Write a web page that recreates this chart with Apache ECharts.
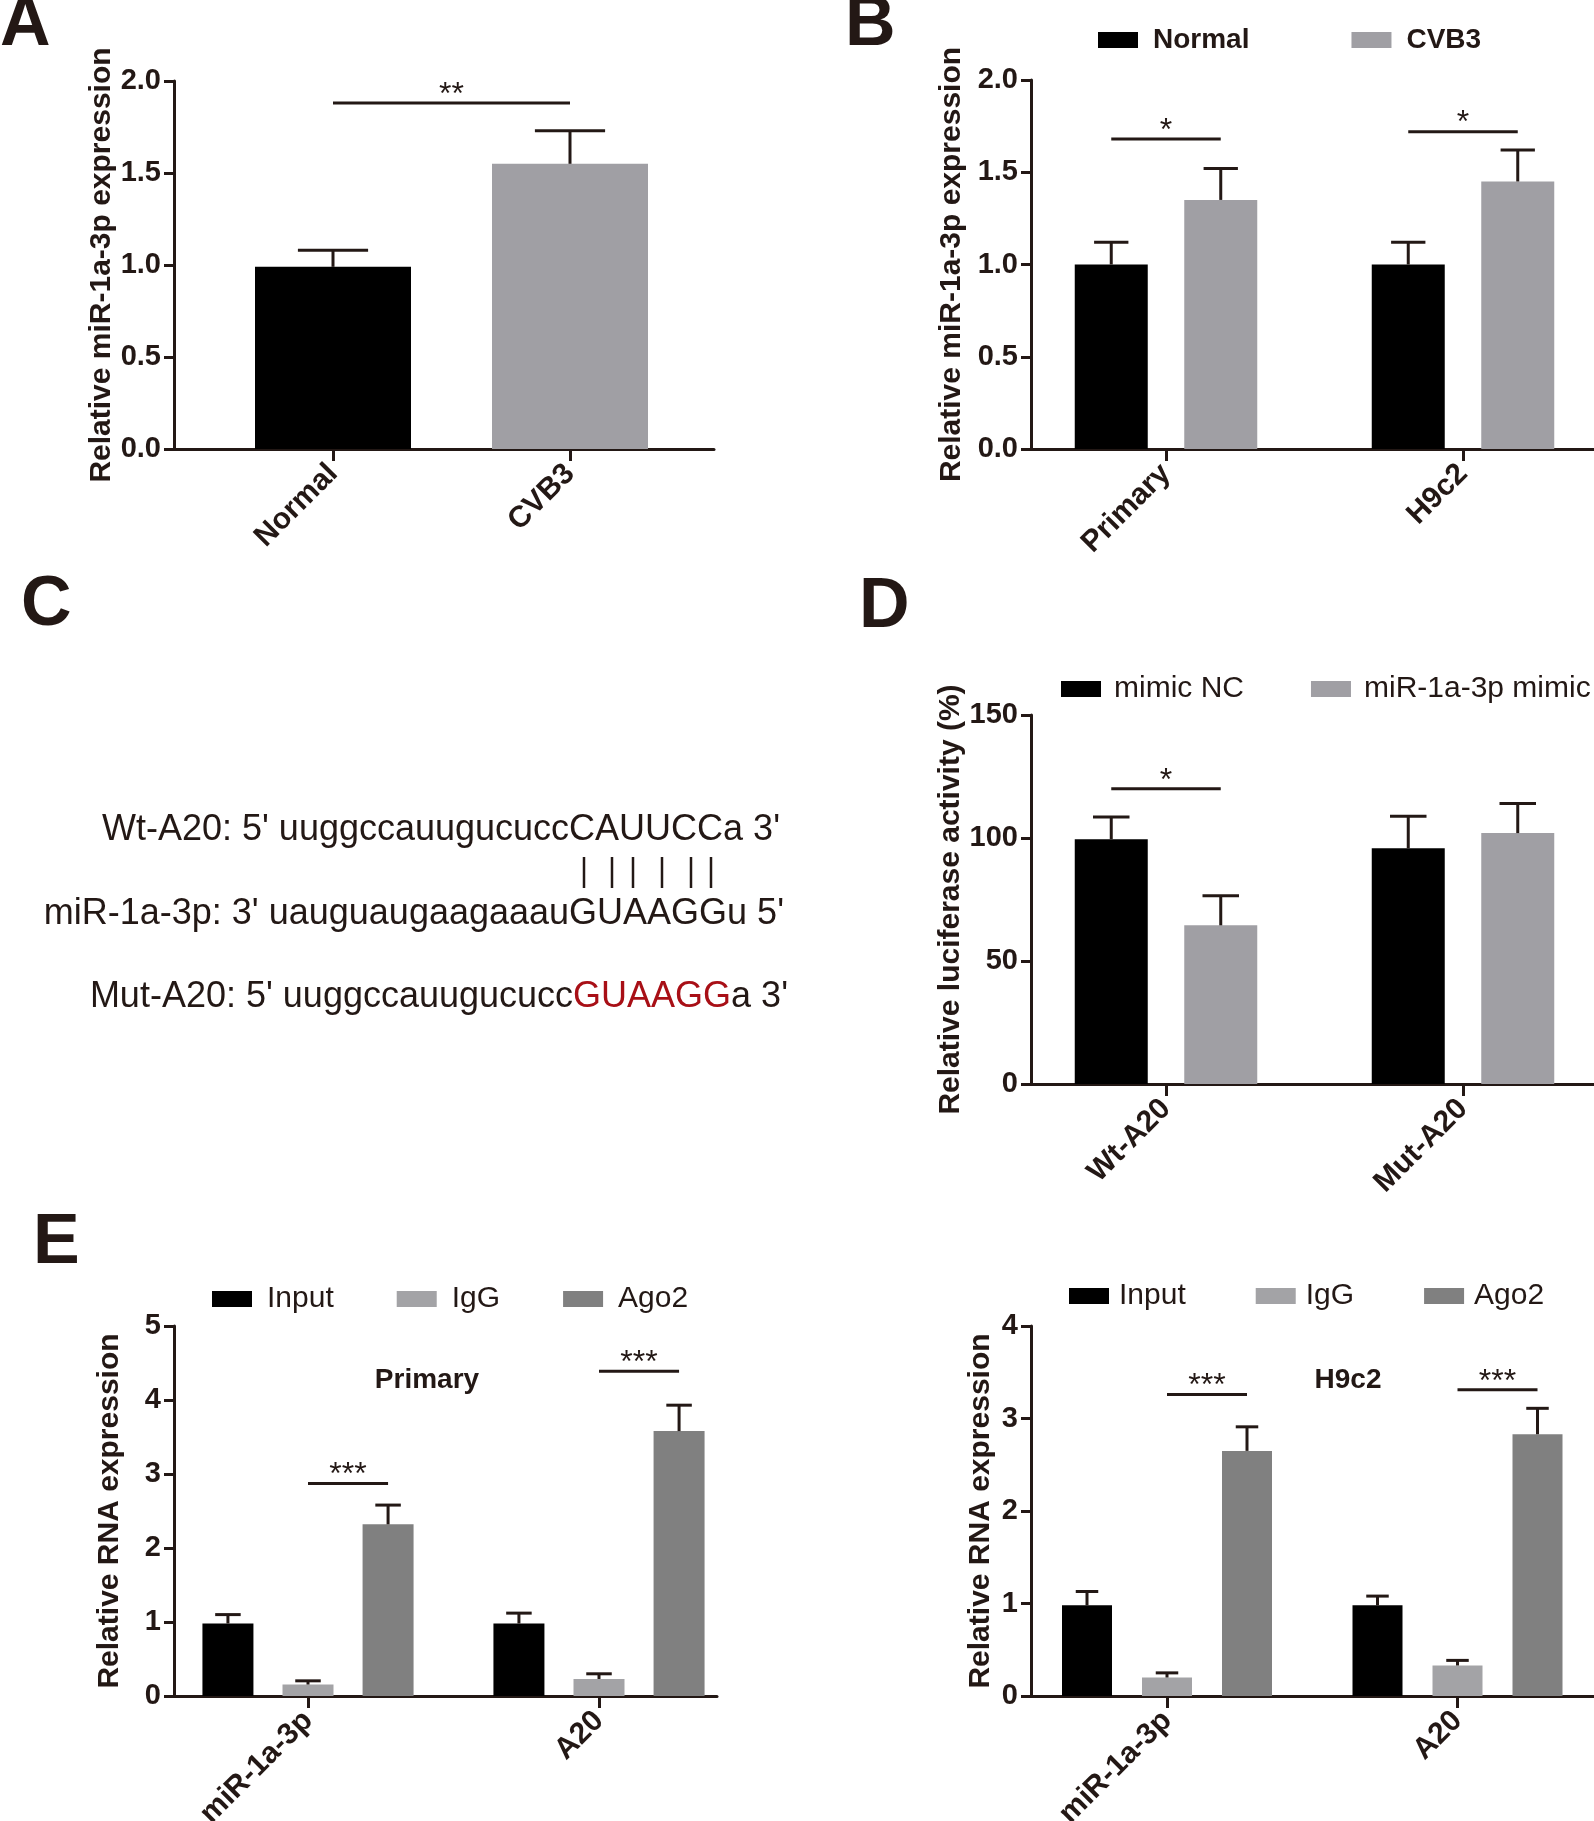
<!DOCTYPE html>
<html>
<head>
<meta charset="utf-8">
<style>
html,body{margin:0;padding:0;background:#fff;}
#chart{width:1594px;height:1821px;}
</style>
<script src="https://cdn.jsdelivr.net/npm/echarts@6/dist/echarts.min.js"></script>
</head>
<body>
<div id="chart"></div>
<script>
// ---------------- DATA ----------------
// Panel A
const A_categories = ['Normal', 'CVB3'];
const A_values = [0.99, 1.55];
const A_errors = [0.09, 0.18];
const A_sig = [[0, 0, 1, 0, 1.88]];
const A_sigText = ['**'];
const A_yTicks = { min: 0, max: 2, interval: 0.5 };

// Panel B
const B_categories = ['Primary', 'H9c2'];
const B_seriesNames = ['Normal', 'CVB3'];
const B_normal = [1.0, 1.0];
const B_normalErr = [0.12, 0.12];
const B_cvb3 = [1.35, 1.45];
const B_cvb3Err = [0.17, 0.17];
const B_sig = [[0, 0, 0, 1, 1.68], [1, 0, 1, 1, 1.72]];
const B_sigText = ['*', '*'];
const B_yTicks = { min: 0, max: 2, interval: 0.5 };

// Panel C (sequences)
const C_wt = "Wt-A20: 5' uuggccauugucuccCAUUCCa 3'";
const C_mir = "miR-1a-3p: 3' uauguaugaagaaauGUAAGGu 5'";
const C_mutHead = "Mut-A20: 5' uuggccauugucucc";
const C_mutSite = "GUAAGG";
const C_mutTail = "a 3'";

// Panel D
const D_categories = ['Wt-A20', 'Mut-A20'];
const D_seriesNames = ['mimic NC', 'miR-1a-3p mimic'];
const D_nc = [99.5, 95.8];
const D_ncErr = [9, 13];
const D_mimic = [64.5, 102];
const D_mimicErr = [12, 12];
const D_sig = [[0, 0, 0, 1, 120]];
const D_sigText = ['*'];
const D_yTicks = { min: 0, max: 150, interval: 50 };

// Panel E
const E_categories = ['miR-1a-3p', 'A20'];
const E_seriesNames = ['Input', 'IgG', 'Ago2'];
const E1_input = [0.98, 0.98];
const E1_inputErr = [0.12, 0.14];
const E1_igg = [0.155, 0.23];
const E1_iggErr = [0.05, 0.07];
const E1_ago2 = [2.32, 3.58];
const E1_ago2Err = [0.26, 0.35];
const E1_sig = [[0, 1, 0, 2, 2.87], [1, 1, 1, 2, 4.39]];
const E1_sigText = ['***', '***'];
const E1_yTicks = { min: 0, max: 5, interval: 1 };
const E2_input = [0.98, 0.98];
const E2_inputErr = [0.15, 0.10];
const E2_igg = [0.20, 0.33];
const E2_iggErr = [0.05, 0.055];
const E2_ago2 = [2.65, 2.83];
const E2_ago2Err = [0.26, 0.28];
const E2_sig = [[0, 1, 0, 2, 3.26], [1, 1, 1, 2, 3.31]];
const E2_sigText = ['***', '***'];
const E2_yTicks = { min: 0, max: 4, interval: 1 };

// ---------------- STYLE ----------------
const INK = '#231815';
const FONT = '"Liberation Sans", Arial, Helvetica, sans-serif';
const LW = 3;
const C_BLACK = '#000000';
const C_GRAY = '#a09fa4';
const C_LIGHT = '#a3a3a6';
const C_DARK = '#808080';
const C_RED = '#a80f16';

const option = {
  animation: false,
  backgroundColor: '#ffffff',
  textStyle: { fontFamily: FONT },
  grid: [], xAxis: [], yAxis: [], series: [], legend: [], graphic: []
};

function errRender(offset, capW) {
  return function (params, api) {
    const c = api.value(0), v = api.value(1), e = api.value(2);
    const p0 = api.coord([c, v]);
    const p1 = api.coord([c, v + e]);
    const x = p0[0] + offset;
    return {
      type: 'group', children: [
        { type: 'line', shape: { x1: x, y1: p0[1], x2: x, y2: p1[1] }, style: { stroke: INK, lineWidth: LW } },
        { type: 'line', shape: { x1: x - capW / 2, y1: p1[1], x2: x + capW / 2, y2: p1[1] }, style: { stroke: INK, lineWidth: LW } }
      ]
    };
  };
}

function sigRender(offsets, texts) {
  return function (params, api) {
    const c1 = api.value(0), s1 = api.value(1), c2 = api.value(2), s2 = api.value(3), y = api.value(4);
    const p1 = api.coord([c1, y]);
    const p2 = api.coord([c2, y]);
    const x1 = p1[0] + offsets[s1], x2 = p2[0] + offsets[s2];
    return {
      type: 'group', children: [
        { type: 'line', shape: { x1: x1, y1: p1[1], x2: x2, y2: p1[1] }, style: { stroke: INK, lineWidth: LW } },
        { type: 'text', style: { text: texts[params.dataIndex], x: (x1 + x2) / 2, y: p1[1] - 8, align: 'center', verticalAlign: 'middle', fontSize: 32, fontFamily: FONT, fill: INK } }
      ]
    };
  };
}

function addPanel(cfg) {
  const f = cfg.frame;
  const frameIdx = option.grid.length;
  option.grid.push({ left: f.left, top: f.top, width: f.width, height: f.height, outerBoundsMode: 'none' });
  option.xAxis.push({
    gridIndex: frameIdx, type: 'value', min: 0, max: 1,
    axisLine: { show: true, onZero: false, lineStyle: { color: INK, width: LW } },
    axisTick: { show: false }, axisLabel: { show: false }, splitLine: { show: false }
  });
  option.yAxis.push({
    gridIndex: frameIdx, type: 'value', min: cfg.ticks.min, max: cfg.ticks.max, interval: cfg.ticks.interval,
    axisLine: { show: true, onZero: false, lineStyle: { color: INK, width: LW } },
    axisTick: { show: true, length: 10, lineStyle: { color: INK, width: LW } },
    axisLabel: { fontSize: 29, fontWeight: 'bold', color: INK, margin: 13, fontFamily: FONT, formatter: cfg.fmt },
    splitLine: { show: false },
    name: cfg.yName, nameLocation: 'middle', nameGap: cfg.nameGap,
    nameTextStyle: { fontSize: 30, fontWeight: 'bold', color: INK, fontFamily: FONT }
  });
  const dIdx = option.grid.length;
  option.grid.push({ left: cfg.dataLeft, top: f.top, width: cfg.dataWidth, height: f.height, outerBoundsMode: 'none' });
  option.xAxis.push({
    gridIndex: dIdx, type: 'category', data: cfg.cats,
    axisLine: { show: false },
    axisTick: { show: true, alignWithLabel: true, length: 12, lineStyle: { color: INK, width: LW } },
    axisLabel: { rotate: 45, interval: 0, fontSize: 30, fontWeight: 'bold', color: INK, margin: 20, fontFamily: FONT }
  });
  option.yAxis.push({ gridIndex: dIdx, type: 'value', min: cfg.ticks.min, max: cfg.ticks.max, show: false });

  const bw = cfg.bw;
  const capW = bw * cfg.capRatio;
  let offsets = [0];
  if (cfg.single) {
    option.series.push({
      type: 'bar', name: cfg.single.name, xAxisIndex: dIdx, yAxisIndex: dIdx, barWidth: bw, silent: true,
      data: cfg.single.values.map((v, i) => ({ value: v, itemStyle: { color: cfg.single.colors[i] } }))
    });
    option.series.push({
      type: 'custom', xAxisIndex: dIdx, yAxisIndex: dIdx, silent: true, z: 5,
      encode: { x: 0, y: 1 },
      data: cfg.single.values.map((v, i) => [i, v, cfg.single.errs[i]]),
      renderItem: errRender(0, capW)
    });
  } else {
    const n = cfg.groups.length;
    offsets = cfg.groups.map((g, i) => (i - (n - 1) / 2) * bw * (1 + cfg.gap));
    cfg.groups.forEach((g, i) => {
      option.series.push({
        type: 'bar', name: g.name, xAxisIndex: dIdx, yAxisIndex: dIdx, barWidth: bw,
        barGap: (cfg.gap * 100) + '%', silent: true, itemStyle: { color: g.color }, data: g.values
      });
    });
    cfg.groups.forEach((g, i) => {
      option.series.push({
        type: 'custom', xAxisIndex: dIdx, yAxisIndex: dIdx, silent: true, z: 5,
        encode: { x: 0, y: 1 },
        data: g.values.map((v, k) => [k, v, g.errs[k]]),
        renderItem: errRender(offsets[i], capW)
      });
    });
  }
  option.series.push({
    type: 'custom', xAxisIndex: dIdx, yAxisIndex: dIdx, silent: true, z: 5,
    encode: { x: 0, y: 4 },
    data: cfg.sig,
    renderItem: sigRender(offsets, cfg.sigText)
  });
}

const fmt1 = v => v.toFixed(1);
const fmt0 = v => String(v);

addPanel({
  frame: { left: 174, top: 81, width: 540, height: 368 }, dataLeft: 214.5, dataWidth: 474,
  ticks: A_yTicks, fmt: fmt1, yName: 'Relative miR-1a-3p expression', nameGap: 57,
  cats: A_categories, bw: 156, capRatio: 0.45,
  single: { name: 'A', values: A_values, errs: A_errors, colors: [C_BLACK, C_GRAY] },
  sig: A_sig, sigText: A_sigText
});
addPanel({
  frame: { left: 1031, top: 80, width: 563, height: 369 }, dataLeft: 1017.5, dataWidth: 594,
  ticks: B_yTicks, fmt: fmt1, yName: 'Relative miR-1a-3p expression', nameGap: 64,
  cats: B_categories, bw: 73, gap: 0.5, capRatio: 0.47,
  groups: [
    { name: B_seriesNames[0], values: B_normal, errs: B_normalErr, color: C_BLACK },
    { name: B_seriesNames[1], values: B_cvb3, errs: B_cvb3Err, color: C_GRAY }
  ],
  sig: B_sig, sigText: B_sigText
});
addPanel({
  frame: { left: 1031, top: 715, width: 563, height: 369 }, dataLeft: 1017.5, dataWidth: 594,
  ticks: D_yTicks, fmt: fmt0, yName: 'Relative luciferase activity (%)', nameGap: 61,
  cats: D_categories, bw: 73, gap: 0.5, capRatio: 0.5,
  groups: [
    { name: D_seriesNames[0], values: D_nc, errs: D_ncErr, color: C_BLACK },
    { name: D_seriesNames[1], values: D_mimic, errs: D_mimicErr, color: C_GRAY }
  ],
  sig: D_sig, sigText: D_sigText
});
addPanel({
  frame: { left: 174, top: 1326, width: 543, height: 370 }, dataLeft: 162.5, dataWidth: 582,
  ticks: E1_yTicks, fmt: fmt0, yName: 'Relative RNA expression', nameGap: 49,
  cats: E_categories, bw: 51, gap: 0.57, capRatio: 0.5,
  groups: [
    { name: E_seriesNames[0], values: E1_input, errs: E1_inputErr, color: C_BLACK },
    { name: E_seriesNames[1], values: E1_igg, errs: E1_iggErr, color: C_LIGHT },
    { name: E_seriesNames[2], values: E1_ago2, errs: E1_ago2Err, color: C_DARK }
  ],
  sig: E1_sig, sigText: E1_sigText
});
addPanel({
  frame: { left: 1031, top: 1326, width: 563, height: 370 }, dataLeft: 1021.75, dataWidth: 581,
  ticks: E2_yTicks, fmt: fmt0, yName: 'Relative RNA expression', nameGap: 35,
  cats: E_categories, bw: 50, gap: 0.6, capRatio: 0.45,
  groups: [
    { name: E_seriesNames[0], values: E2_input, errs: E2_inputErr, color: C_BLACK },
    { name: E_seriesNames[1], values: E2_igg, errs: E2_iggErr, color: C_LIGHT },
    { name: E_seriesNames[2], values: E2_ago2, errs: E2_ago2Err, color: C_DARK }
  ],
  sig: E2_sig, sigText: E2_sigText
});

// ---------------- LEGENDS ----------------
function legend(names, left, top, gap, bold, textPad) {
  return {
    data: names, left: left, top: top, padding: 0, itemGap: gap, itemWidth: 40, itemHeight: 16,
    icon: 'rect', selectedMode: false, orient: 'horizontal',
    textStyle: { fontSize: bold ? 28 : 30, fontWeight: bold ? 'bold' : 'normal', color: INK, fontFamily: FONT, padding: [0, 0, 0, textPad] }
  };
}
option.legend.push(legend(B_seriesNames, 1098, 26, 102, true, 10));
option.legend.push(legend(D_seriesNames, 1061, 674, 67, false, 8));
option.legend.push(legend(E_seriesNames, 212, 1284, 63, false, 10));
option.legend.push(legend(E_seriesNames, 1069, 1281, 70, false, 5));

// ---------------- TEXT / LABELS ----------------
const letterStyle = (t, x, y) => ({ type: 'text', style: { text: t, x: x, y: y, verticalAlign: 'middle', align: 'left', fontSize: 70, fontWeight: 'bold', fontFamily: FONT, fill: INK } });
option.graphic.push(letterStyle('A', 0, 26));
option.graphic.push(letterStyle('B', 845, 26));
option.graphic.push(letterStyle('C', 21, 606));
option.graphic.push(letterStyle('D', 859, 608));
option.graphic.push(letterStyle('E', 33, 1244));

const seqStyle = { fontSize: 36, fontFamily: FONT, fill: INK, align: 'right', verticalAlign: 'middle' };
option.graphic.push({ type: 'text', style: Object.assign({ text: C_wt, x: 780, y: 830 }, seqStyle) });
option.graphic.push({ type: 'text', style: Object.assign({ text: C_mir, x: 784, y: 914 }, seqStyle) });
option.graphic.push({
  type: 'text', style: {
    text: '{n|' + C_mutHead + '}{r|' + C_mutSite + '}{n|' + C_mutTail + '}',
    x: 788, y: 997, align: 'right', verticalAlign: 'middle',
    rich: {
      n: { fontSize: 36, fontFamily: FONT, fill: INK, color: INK },
      r: { fontSize: 36, fontFamily: FONT, fill: C_RED, color: C_RED }
    }
  }
});
[584, 612, 633, 662, 691, 711].forEach(x => {
  option.graphic.push({ type: 'line', shape: { x1: x, y1: 857, x2: x, y2: 888 }, style: { stroke: INK, lineWidth: 2.5 } });
});

option.graphic.push({ type: 'text', style: { text: 'Primary', x: 427, y: 1380, align: 'center', verticalAlign: 'middle', fontSize: 28, fontWeight: 'bold', fontFamily: FONT, fill: INK } });
option.graphic.push({ type: 'text', style: { text: 'H9c2', x: 1348, y: 1380, align: 'center', verticalAlign: 'middle', fontSize: 28, fontWeight: 'bold', fontFamily: FONT, fill: INK } });

const chart = echarts.init(document.getElementById('chart'), null, { renderer: 'canvas' });
chart.setOption(option);
</script>
</body>
</html>
